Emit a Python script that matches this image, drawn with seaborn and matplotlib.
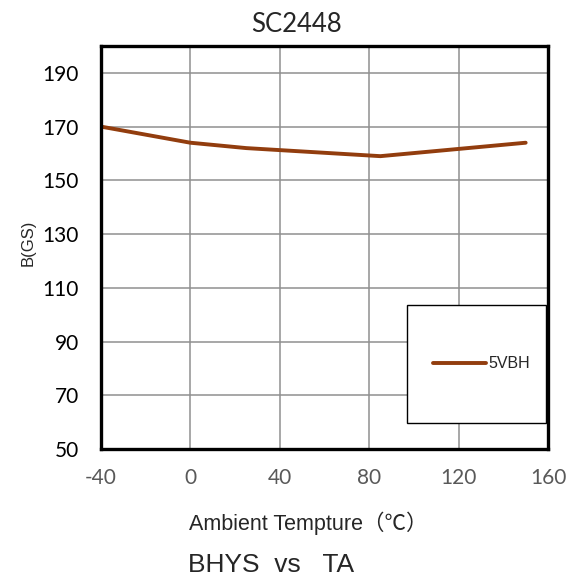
import numpy as np
import pandas as pd
import matplotlib
matplotlib.use('Agg')
import matplotlib.pyplot as plt
import seaborn as sns
from matplotlib.patches import Rectangle

# data
temp = [-40, 0, 25, 85, 150]
bhys = [170, 164, 162, 159, 164]
series_name = '5VBH'
x_ticks = [-40, 0, 40, 80, 120, 160]
y_ticks = [50, 70, 90, 110, 130, 150, 170, 190]

df = pd.DataFrame({'TA': temp, 'B': bhys, 'series': series_name})

sns.set_style('white')
plt.rcParams['font.family'] = ['Lato', 'DejaVu Sans']
plt.rcParams['axes.unicode_minus'] = False

line_color = '#923D0E'

fig = plt.figure(figsize=(5.83, 5.78), dpi=100)
ax = fig.add_axes([0.1732, 0.2232, 0.7668, 0.6972])

sns.lineplot(data=df, x='TA', y='B', hue='series', palette=[line_color],
             linewidth=2.8, ax=ax, legend=False)

ax.set_xlim(-40, 160)
ax.set_ylim(50, 200)
ax.set_xticks(x_ticks)
ax.set_yticks(y_ticks)
ax.grid(True, color='#8f8f8f', linewidth=1.1)
ax.set_axisbelow(True)
for s in ax.spines.values():
    s.set_color('black')
    s.set_linewidth(2.4)
ax.tick_params(axis='both', length=0, labelsize=15)
ax.tick_params(axis='x', pad=14, colors='#595959')
ax.tick_params(axis='y', pad=16, colors='black')
ax.set_xlabel('')
ax.set_ylabel('')

# legend box
ax.add_patch(Rectangle((0.6846, 0.0645), 0.311, 0.2925, transform=ax.transAxes,
                       facecolor='white', edgecolor='black', linewidth=1.0, zorder=5))
ax.plot([], [], color=line_color, linewidth=2.8, label=series_name)
leg = ax.legend(loc='center', bbox_to_anchor=(0.851, 0.211), frameon=False,
                handlelength=3.3, handletextpad=0.12,
                prop={'family': ['Liberation Sans Narrow', 'Liberation Sans'], 'size': 11.5})
leg.set_zorder(6)

fig.text(0.508, 0.945, 'SC2448', ha='center', va='baseline', fontsize=18.5)
fig.text(0.049, 0.580, 'B(GS)', rotation=90, ha='center', va='center',
         fontsize=12, family=['Liberation Sans Narrow', 'Liberation Sans'])
fig.text(0.324, 0.083, 'Ambient Tempture（℃）', ha='left', va='baseline',
         fontsize=15.5, family=['Liberation Sans', 'Noto Sans CJK SC'])
fig.text(0.3225, 0.011, 'BHYS  vs   TA', ha='left', va='baseline',
         fontsize=19, family='Liberation Sans')

fig.savefig('out.png', dpi=100)
